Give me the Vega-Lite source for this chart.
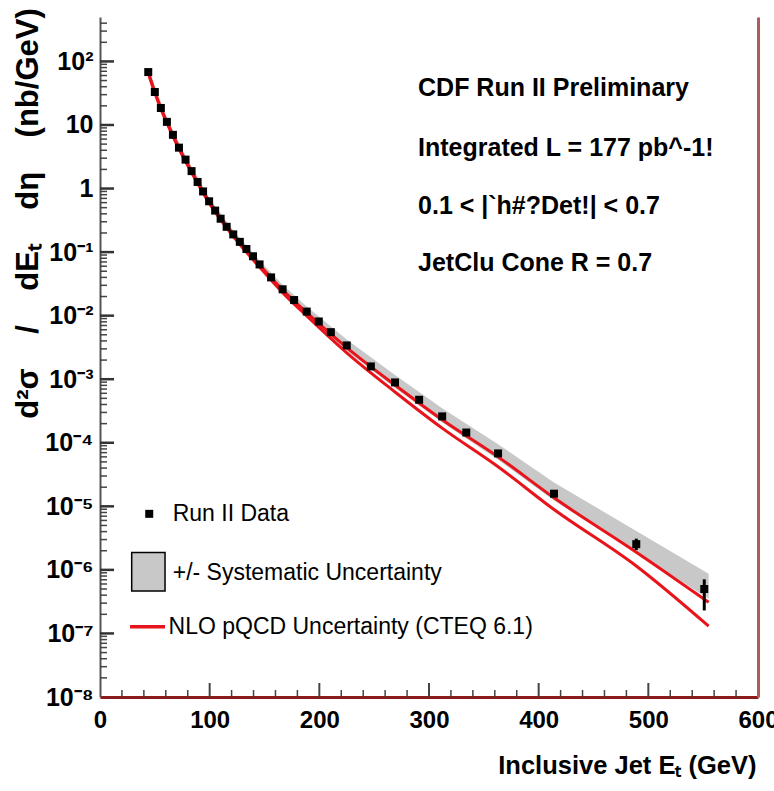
{
  "$schema": "https://vega.github.io/schema/vega-lite/v6.json",
  "width": 658,
  "height": 680,
  "autosize": {"type": "none"},
  "padding": {"left": 100, "top": 17, "right": 16, "bottom": 94},
  "background": "white",
  "config": {"view": {"stroke": null}, "font": "Liberation Sans"},
  "datasets": {
    "pts": [
      {"ET": 44, "v": 68}, {"ET": 50, "v": 33}, {"ET": 55.5, "v": 18.5}, {"ET": 61, "v": 11.2},
      {"ET": 66.5, "v": 7.0}, {"ET": 72, "v": 4.4}, {"ET": 78, "v": 2.85}, {"ET": 83.5, "v": 1.88},
      {"ET": 89, "v": 1.27}, {"ET": 94, "v": 0.9}, {"ET": 99.5, "v": 0.63}, {"ET": 105, "v": 0.45},
      {"ET": 110, "v": 0.335}, {"ET": 115.5, "v": 0.25}, {"ET": 121.5, "v": 0.19}, {"ET": 127.5, "v": 0.145},
      {"ET": 133.5, "v": 0.112}, {"ET": 139.5, "v": 0.086}, {"ET": 145.5, "v": 0.064}, {"ET": 156, "v": 0.04},
      {"ET": 166.5, "v": 0.026}, {"ET": 177, "v": 0.0176}, {"ET": 188.5, "v": 0.0116}, {"ET": 199.5, "v": 0.0081},
      {"ET": 210.5, "v": 0.0055}, {"ET": 225, "v": 0.0034}, {"ET": 247, "v": 0.00159}, {"ET": 269, "v": 0.00089},
      {"ET": 291, "v": 0.000475}, {"ET": 312, "v": 0.00026}, {"ET": 334, "v": 0.000145},
      {"ET": 363, "v": 6.8e-5, "lo": 6.2e-5, "hi": 7.4e-5},
      {"ET": 414, "v": 1.58e-5, "lo": 1.42e-5, "hi": 1.75e-5},
      {"ET": 489, "v": 2.54e-6, "lo": 2.05e-6, "hi": 3.1e-6},
      {"ET": 551, "v": 5.0e-7, "lo": 2.3e-7, "hi": 7.1e-7}
    ],
    "band": [
      {"ET": 44, "lo": 59, "hi": 78}, {"ET": 61, "lo": 9.7, "hi": 12.9}, {"ET": 78, "lo": 2.48, "hi": 3.28},
      {"ET": 100, "lo": 0.53, "hi": 0.7}, {"ET": 122, "lo": 0.162, "hi": 0.214}, {"ET": 145.5, "lo": 0.056, "hi": 0.074},
      {"ET": 166.5, "lo": 0.0222, "hi": 0.0305}, {"ET": 188.5, "lo": 0.0099, "hi": 0.0139}, {"ET": 225, "lo": 0.0028, "hi": 0.0042},
      {"ET": 269, "lo": 0.00073, "hi": 0.00116}, {"ET": 312, "lo": 0.00021, "hi": 0.00035}, {"ET": 363, "lo": 5.4e-5, "hi": 9.5e-5},
      {"ET": 414, "lo": 1.23e-5, "hi": 2.37e-5}, {"ET": 489, "lo": 1.9e-6, "hi": 4.1e-6}, {"ET": 555, "lo": 3.5e-7, "hi": 8.7e-7}
    ],
    "nlo": [
      {"ET": 44, "v": 68, "edge": "up"}, {"ET": 50, "v": 33, "edge": "up"}, {"ET": 55.5, "v": 18.5, "edge": "up"},
      {"ET": 61, "v": 11.2, "edge": "up"}, {"ET": 72, "v": 4.4, "edge": "up"}, {"ET": 83.5, "v": 1.88, "edge": "up"},
      {"ET": 99.5, "v": 0.63, "edge": "up"}, {"ET": 121.5, "v": 0.19, "edge": "up"}, {"ET": 145.5, "v": 0.063, "edge": "up"},
      {"ET": 166.5, "v": 0.0255, "edge": "up"}, {"ET": 188.5, "v": 0.0112, "edge": "up"}, {"ET": 225, "v": 0.00315, "edge": "up"},
      {"ET": 269, "v": 0.00081, "edge": "up"}, {"ET": 312, "v": 0.00023, "edge": "up"}, {"ET": 363, "v": 6.0e-5, "edge": "up"},
      {"ET": 414, "v": 1.36e-5, "edge": "up"}, {"ET": 489, "v": 1.9e-6, "edge": "up"}, {"ET": 555, "v": 3.1e-7, "edge": "up"},
      {"ET": 44, "v": 66, "edge": "lo"}, {"ET": 50, "v": 32, "edge": "lo"}, {"ET": 55.5, "v": 17.9, "edge": "lo"},
      {"ET": 61, "v": 10.8, "edge": "lo"}, {"ET": 72, "v": 4.2, "edge": "lo"}, {"ET": 83.5, "v": 1.79, "edge": "lo"},
      {"ET": 99.5, "v": 0.595, "edge": "lo"}, {"ET": 121.5, "v": 0.177, "edge": "lo"}, {"ET": 145.5, "v": 0.058, "edge": "lo"},
      {"ET": 166.5, "v": 0.023, "edge": "lo"}, {"ET": 188.5, "v": 0.0099, "edge": "lo"}, {"ET": 225, "v": 0.0026, "edge": "lo"},
      {"ET": 269, "v": 0.00063, "edge": "lo"}, {"ET": 312, "v": 0.00017, "edge": "lo"}, {"ET": 363, "v": 4.2e-5, "edge": "lo"},
      {"ET": 414, "v": 8.9e-6, "edge": "lo"}, {"ET": 489, "v": 1.15e-6, "edge": "lo"}, {"ET": 555, "v": 1.3e-7, "edge": "lo"}
    ]
  },
  "layer": [
    {
      "layer": [
        {
          "data": {"name": "band"},
          "mark": {"type": "area", "opacity": 1, "color": "#c8c8c8"},
          "encoding": {
            "x": {
              "field": "ET", "type": "quantitative",
              "scale": {"domain": [0, 600], "nice": false, "zero": false},
              "axis": {
                "values": [0, 100, 200, 300, 400, 500, 600],
                "ticks": false, "grid": false,
                "domainColor": "#8b1a1a", "domainWidth": 3,
                "labelFlush": false, "labelOverlap": false,
                "labelFont": "Liberation Sans", "labelFontSize": 24, "labelFontWeight": "bold", "labelColor": "black",
                "labelPadding": 11,
                "title": "Inclusive Jet Eₜ (GeV)",
                "titleFont": "Liberation Sans", "titleFontSize": 25.5, "titleFontWeight": "bold", "titleColor": "black",
                "titleAnchor": "end", "titleAlign": "right", "titleX": 656, "titleY": 68, "titleBaseline": "middle"
              }
            },
            "y": {
              "field": "lo", "type": "quantitative",
              "scale": {"type": "log", "domain": [1e-8, 500], "nice": false},
              "axis": {
                "values": [1e-8, 1e-7, 1e-6, 1e-5, 1e-4, 1e-3, 1e-2, 0.1, 1, 10, 100],
                "labelExpr": "['10⁻⁸','10⁻⁷','10⁻⁶','10⁻⁵','10⁻⁴','10⁻³','10⁻²','10⁻¹','1','10','10²'][round(log(datum.value)/LN10)+8]",
                "ticks": false, "grid": false,
                "domainColor": "#555", "domainWidth": 2,
                "labelFlush": false, "labelOverlap": false,
                "labelFont": "Liberation Sans", "labelFontSize": 25, "labelFontWeight": "bold", "labelColor": "black",
                "labelPadding": 7,
                "title": "d²σ\u00a0\u00a0\u00a0\u00a0/\u00a0\u00a0\u00a0\u00a0dEₜ\u00a0\u00a0\u00a0\u00a0dη\u00a0\u00a0\u00a0\u00a0(nb/GeV)",
                "titleFont": "Liberation Sans", "titleFontSize": 31, "titleFontWeight": "bold", "titleColor": "black",
                "titleAngle": -90, "titleAlign": "center", "titleBaseline": "middle", "titleX": -72, "titleY": 196
              }
            },
            "y2": {"field": "hi"}
          }
        },
        {
          "data": {"values": [{"t": 1e-7}, {"t": 1e-6}, {"t": 1e-5}, {"t": 1e-4}, {"t": 1e-3}, {"t": 1e-2}, {"t": 0.1}, {"t": 1}, {"t": 10}, {"t": 100}]},
          "mark": {"type": "rule", "color": "#333", "strokeWidth": 2.5},
          "encoding": {"x": {"datum": 0, "type": "quantitative"}, "x2": {"datum": 12.8}, "y": {"field": "t", "type": "quantitative"}}
        },
        {
          "data": {"values": [
            {"t": 2e-8}, {"t": 3e-8}, {"t": 4e-8}, {"t": 5e-8}, {"t": 6e-8}, {"t": 7e-8}, {"t": 8e-8}, {"t": 9e-8},
            {"t": 2e-7}, {"t": 3e-7}, {"t": 4e-7}, {"t": 5e-7}, {"t": 6e-7}, {"t": 7e-7}, {"t": 8e-7}, {"t": 9e-7},
            {"t": 2e-6}, {"t": 3e-6}, {"t": 4e-6}, {"t": 5e-6}, {"t": 6e-6}, {"t": 7e-6}, {"t": 8e-6}, {"t": 9e-6},
            {"t": 2e-5}, {"t": 3e-5}, {"t": 4e-5}, {"t": 5e-5}, {"t": 6e-5}, {"t": 7e-5}, {"t": 8e-5}, {"t": 9e-5},
            {"t": 2e-4}, {"t": 3e-4}, {"t": 4e-4}, {"t": 5e-4}, {"t": 6e-4}, {"t": 7e-4}, {"t": 8e-4}, {"t": 9e-4},
            {"t": 2e-3}, {"t": 3e-3}, {"t": 4e-3}, {"t": 5e-3}, {"t": 6e-3}, {"t": 7e-3}, {"t": 8e-3}, {"t": 9e-3},
            {"t": 0.02}, {"t": 0.03}, {"t": 0.04}, {"t": 0.05}, {"t": 0.06}, {"t": 0.07}, {"t": 0.08}, {"t": 0.09},
            {"t": 0.2}, {"t": 0.3}, {"t": 0.4}, {"t": 0.5}, {"t": 0.6}, {"t": 0.7}, {"t": 0.8}, {"t": 0.9},
            {"t": 2}, {"t": 3}, {"t": 4}, {"t": 5}, {"t": 6}, {"t": 7}, {"t": 8}, {"t": 9},
            {"t": 20}, {"t": 30}, {"t": 40}, {"t": 50}, {"t": 60}, {"t": 70}, {"t": 80}, {"t": 90},
            {"t": 200}, {"t": 300}, {"t": 400}
          ]},
          "mark": {"type": "rule", "color": "#444", "strokeWidth": 1.5},
          "encoding": {"x": {"datum": 0, "type": "quantitative"}, "x2": {"datum": 6.4}, "y": {"field": "t", "type": "quantitative"}}
        },
        {
          "data": {"values": [{"t": 100}, {"t": 200}, {"t": 300}, {"t": 400}, {"t": 500}]},
          "mark": {"type": "rule", "color": "#444", "strokeWidth": 2},
          "encoding": {"x": {"field": "t", "type": "quantitative"}, "y": {"datum": 1e-8, "type": "quantitative"}, "y2": {"datum": 1.66e-8}}
        },
        {
          "data": {"values": [
            {"t": 20}, {"t": 40}, {"t": 60}, {"t": 80}, {"t": 120}, {"t": 140}, {"t": 160}, {"t": 180},
            {"t": 220}, {"t": 240}, {"t": 260}, {"t": 280}, {"t": 320}, {"t": 340}, {"t": 360}, {"t": 380},
            {"t": 420}, {"t": 440}, {"t": 460}, {"t": 480}, {"t": 520}, {"t": 540}, {"t": 560}, {"t": 580}
          ]},
          "mark": {"type": "rule", "color": "#444", "strokeWidth": 1.5},
          "encoding": {"x": {"field": "t", "type": "quantitative"}, "y": {"datum": 1e-8, "type": "quantitative"}, "y2": {"datum": 1.29e-8}}
        },
        {
          "data": {"name": "nlo"},
          "mark": {"type": "line", "strokeWidth": 3, "interpolate": "monotone", "color": "#e8141b"},
          "encoding": {
            "x": {"field": "ET", "type": "quantitative"},
            "y": {"field": "v", "type": "quantitative"},
            "detail": {"field": "edge"}
          }
        },
        {
          "data": {"name": "pts"},
          "mark": {"type": "rule", "color": "black", "strokeWidth": 3},
          "encoding": {
            "x": {"field": "ET", "type": "quantitative"},
            "y": {"field": "lo", "type": "quantitative"},
            "y2": {"field": "hi"}
          }
        },
        {
          "data": {"name": "pts"},
          "mark": {"type": "point", "shape": "square", "filled": true, "size": 64, "opacity": 1, "color": "black"},
          "encoding": {
            "x": {"field": "ET", "type": "quantitative"},
            "y": {"field": "v", "type": "quantitative"}
          }
        },
        {
          "data": {"values": [{}]},
          "mark": {"type": "point", "shape": "square", "filled": true, "size": 64, "opacity": 1, "color": "black"},
          "encoding": {"x": {"datum": 44.9, "type": "quantitative"}, "y": {"datum": 7.62e-6, "type": "quantitative"}}
        },
        {
          "data": {"values": [{}]},
          "mark": {"type": "rect", "fill": "#c8c8c8", "stroke": "black", "strokeWidth": 1.5},
          "encoding": {"x": {"datum": 28.9, "type": "quantitative"}, "x2": {"datum": 59.3}, "y": {"datum": 1.88e-6, "type": "quantitative"}, "y2": {"datum": 4.67e-7}}
        },
        {
          "data": {"values": [{}]},
          "mark": {"type": "rule", "color": "#e8141b", "strokeWidth": 3.5},
          "encoding": {"x": {"datum": 27.4, "type": "quantitative"}, "x2": {"datum": 59.3}, "y": {"datum": 1.27e-7, "type": "quantitative"}}
        },
        {
          "data": {"values": [{}]},
          "mark": {"type": "text", "align": "left", "baseline": "middle", "font": "Liberation Sans", "fontSize": 23, "color": "black"},
          "encoding": {"x": {"datum": 66.3, "type": "quantitative"}, "y": {"datum": 7.62e-6, "type": "quantitative"}, "text": {"value": "Run II Data"}}
        },
        {
          "data": {"values": [{}]},
          "mark": {"type": "text", "align": "left", "baseline": "middle", "font": "Liberation Sans", "fontSize": 23, "color": "black"},
          "encoding": {"x": {"datum": 66.3, "type": "quantitative"}, "y": {"datum": 9.08e-7, "type": "quantitative"}, "text": {"value": "+/- Systematic Uncertainty"}}
        },
        {
          "data": {"values": [{}]},
          "mark": {"type": "text", "align": "left", "baseline": "middle", "font": "Liberation Sans", "fontSize": 23, "color": "black"},
          "encoding": {"x": {"datum": 62.5, "type": "quantitative"}, "y": {"datum": 1.27e-7, "type": "quantitative"}, "text": {"value": "NLO pQCD Uncertainty (CTEQ 6.1)"}}
        },
        {
          "data": {"values": [{}]},
          "mark": {"type": "text", "align": "left", "baseline": "middle", "font": "Liberation Sans", "fontSize": 25, "fontWeight": "bold", "color": "black"},
          "encoding": {"x": {"datum": 290, "type": "quantitative"}, "y": {"datum": 37.6, "type": "quantitative"}, "text": {"value": "CDF Run II Preliminary"}}
        },
        {
          "data": {"values": [{}]},
          "mark": {"type": "text", "align": "left", "baseline": "middle", "font": "Liberation Sans", "fontSize": 25, "fontWeight": "bold", "color": "black"},
          "encoding": {"x": {"datum": 290, "type": "quantitative"}, "y": {"datum": 4.4, "type": "quantitative"}, "text": {"value": "Integrated L = 177 pb^-1!"}}
        },
        {
          "data": {"values": [{}]},
          "mark": {"type": "text", "align": "left", "baseline": "middle", "font": "Liberation Sans", "fontSize": 25, "fontWeight": "bold", "color": "black"},
          "encoding": {"x": {"datum": 290, "type": "quantitative"}, "y": {"datum": 0.54, "type": "quantitative"}, "text": {"value": "0.1 < |`h#?Det!| < 0.7"}}
        },
        {
          "data": {"values": [{}]},
          "mark": {"type": "text", "align": "left", "baseline": "middle", "font": "Liberation Sans", "fontSize": 25, "fontWeight": "bold", "color": "black"},
          "encoding": {"x": {"datum": 290, "type": "quantitative"}, "y": {"datum": 0.068, "type": "quantitative"}, "text": {"value": "JetClu Cone R = 0.7"}}
        }
      ]
    },
    {
      "data": {"name": "pts"},
      "mark": {"type": "point", "opacity": 0},
      "encoding": {
        "y": {
          "field": "v", "type": "quantitative",
          "scale": {"type": "log", "domain": [1e-8, 500], "nice": false},
          "axis": {"orient": "right", "ticks": false, "labels": false, "title": null, "grid": false, "domainColor": "#b05a5a", "domainWidth": 3}
        }
      }
    }
  ],
  "resolve": {"scale": {"y": "independent"}}
}
